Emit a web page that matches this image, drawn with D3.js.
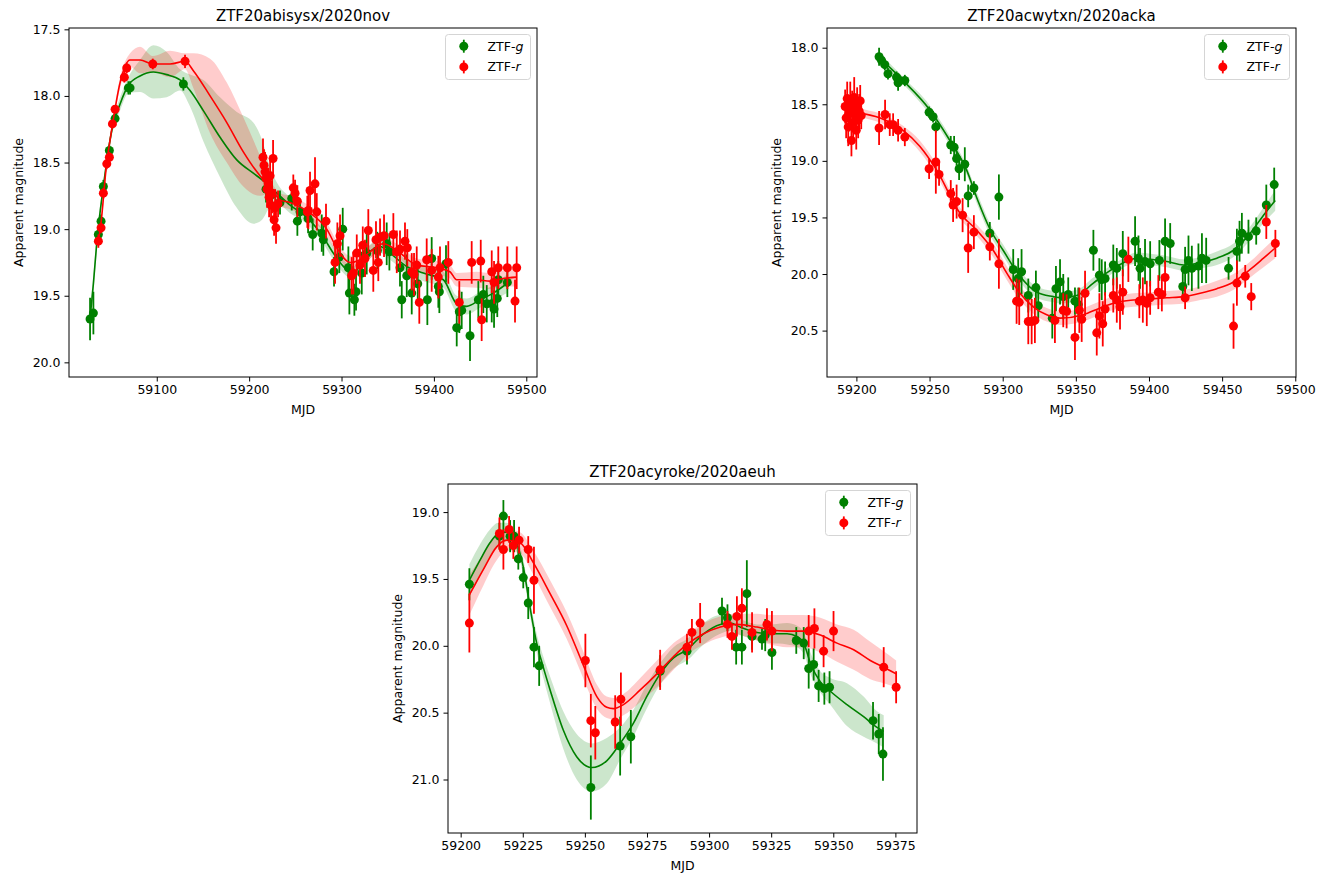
<!DOCTYPE html>
<html>
<head>
<meta charset="utf-8">
<script src="https://cdn.jsdelivr.net/npm/d3@7"></script>
<style>
  body { margin: 0; background: #fff; }
  svg { display: block; font-family: "DejaVu Sans", sans-serif; }
</style>
</head>
<body>
<div id="chart"></div>
<script>
// photometry rows: [MJD, magnitude, error]
const p1Green = [
  [59027.8,19.675,0.16],[59031.4,19.63,0.16],[59036.8,19.04,0.06],[59039.7,18.94,0.05],[59042.2,18.68,0.05],
  [59048.7,18.41,0.04],[59054.9,18.17,0.04],[59069.3,17.94,0.05],[59071.1,17.94,0.05],[59128.8,17.91,0.05],
  [59218.3,18.70,0.10],[59224.8,18.74,0.10],[59233.4,18.80,0.09],[59246.1,18.77,0.09],[59252.2,18.94,0.11],
  [59255.1,18.87,0.09],[59263.8,18.92,0.11],[59268.8,19.04,0.12],[59278.6,19.03,0.14],[59280.3,19.08,0.12],
  [59291.9,19.32,0.11],[59297.6,19.21,0.12],[59301.3,19.00,0.16],[59307.4,19.29,0.16],[59308.5,19.48,0.16],
  [59313.9,19.53,0.12],[59315.7,19.47,0.14],[59321.9,19.33,0.16],[59327.3,19.18,0.16],[59338.8,19.16,0.14],
  [59348.9,19.11,0.16],[59351.8,19.17,0.14],[59363.3,19.29,0.14],[59365.2,19.53,0.14],[59370.6,19.35,0.16],
  [59376.0,19.48,0.16],[59382.5,19.41,0.16],[59392.9,19.53,0.19],[59397.6,19.22,0.16],[59404.8,19.43,0.16],
  [59405.9,19.47,0.16],[59413.1,19.26,0.14],[59424.7,19.74,0.14],[59427.5,19.62,0.16],[59430.1,19.61,0.14],
  [59439.1,19.80,0.19],[59448.1,19.53,0.14],[59453.5,19.49,0.14],[59457.2,19.56,0.14],[59462.6,19.56,0.14],
  [59465.1,19.60,0.14],[59468.6,19.52,0.14],[59469.7,19.38,0.14],[59479.5,19.40,0.11]
];
const p1Red = [
  [59036.8,19.09,0.05],[59039.7,18.99,0.04],[59042.2,18.73,0.04],[59045.9,18.51,0.04],[59048.7,18.46,0.04],
  [59052.0,18.21,0.03],[59054.9,18.10,0.03],[59064.9,17.86,0.04],[59067.5,17.79,0.04],[59095.7,17.76,0.04],
  [59130.6,17.74,0.05],
  [59215.0,18.46,0.14],[59216.1,18.52,0.12],[59217.2,18.57,0.15],[59218.3,18.62,0.12],[59219.4,18.70,0.14],
  [59220.5,18.66,0.12],[59221.6,18.76,0.15],[59222.7,18.60,0.13],[59223.7,18.82,0.12],[59224.8,18.73,0.15],
  [59225.9,18.47,0.14],[59227.0,18.93,0.12],[59228.1,18.84,0.14],[59229.1,18.99,0.12],[59231.3,18.81,0.10],
  [59247.8,18.69,0.10],[59249.7,18.73,0.10],[59252.2,18.79,0.12],[59263.0,18.87,0.12],[59264.1,18.86,0.14],
  [59265.9,18.71,0.14],[59271.3,18.66,0.20],[59273.2,18.87,0.14],[59283.2,18.94,0.13],
  [59293.0,19.25,0.16],[59295.5,19.11,0.16],[59298.4,19.05,0.16],[59311.0,19.35,0.14],[59312.8,19.33,0.16],
  [59316.5,19.18,0.14],[59320.0,19.27,0.14],[59323.0,19.12,0.14],[59325.4,19.22,0.14],[59329.0,19.01,0.16],
  [59334.4,19.31,0.16],[59337.3,19.08,0.14],[59339.8,19.25,0.14],[59341.7,19.06,0.14],[59346.0,19.05,0.16],
  [59356.1,19.04,0.16],[59359.8,19.17,0.16],[59363.3,19.15,0.14],[59368.7,19.09,0.14],[59371.2,19.14,0.14],
  [59376.0,19.32,0.14],[59378.5,19.34,0.16],[59381.4,19.27,0.14],[59384.2,19.55,0.16],[59392.2,19.23,0.16],
  [59397.6,19.31,0.16],[59404.8,19.36,0.16],[59406.6,19.29,0.16],[59415.6,19.25,0.16],[59427.5,19.55,0.16],
  [59440.9,19.25,0.16],[59450.7,19.24,0.16],[59451.7,19.68,0.16],[59462.6,19.32,0.16],[59465.1,19.40,0.16],
  [59469.7,19.29,0.16],[59479.5,19.29,0.16],[59487.8,19.54,0.16],[59489.6,19.29,0.16]
];

const p2Green = [
  [59215.5,18.08,0.08],[59217.1,18.11,0.05],[59219.4,18.15,0.05],[59221.6,18.23,0.05],[59227.4,18.26,0.05],
  [59228.5,18.31,0.07],[59229.6,18.29,0.05],[59233.1,18.29,0.05],[59249.7,18.57,0.05],[59252.4,18.61,0.05],
  [59254.3,18.70,0.05],[59264.5,18.86,0.08],[59266.8,18.88,0.10],[59268.5,18.98,0.06],[59270.2,19.07,0.10],
  [59274.1,19.03,0.15],[59276.4,19.31,0.10],[59280.3,19.24,0.06],[59291.2,19.64,0.10],[59297.4,19.32,0.20],
  [59307.2,19.96,0.18],[59310.6,20.04,0.18],[59312.9,19.98,0.20],[59317.5,20.19,0.15],[59322.7,20.12,0.15],
  [59324.3,20.28,0.14],[59333.9,20.39,0.18],[59336.4,20.13,0.20],[59339.2,20.07,0.20],[59341.4,20.20,0.20],
  [59344.8,20.18,0.15],[59349.4,20.24,0.12],[59351.7,20.27,0.15],[59362.0,19.79,0.18],[59366.1,20.01,0.15],
  [59367.7,20.05,0.18],[59370.0,20.04,0.15],[59375.6,19.92,0.18],[59378.0,19.95,0.18],[59382.1,19.82,0.20],
  [59390.5,19.71,0.22],[59392.8,19.86,0.20],[59393.9,19.95,0.18],[59397.3,19.89,0.20],[59400.8,19.91,0.20],
  [59407.1,19.88,0.18],[59411.0,19.71,0.20],[59414.5,19.73,0.18],[59423.1,20.11,0.12],[59424.7,19.96,0.20],
  [59427.0,19.88,0.22],[59429.3,19.95,0.20],[59433.8,19.93,0.20],[59436.2,19.86,0.22],[59439.1,19.88,0.20],
  [59454.4,19.95,0.10],[59460.1,19.80,0.20],[59461.9,19.71,0.18],[59463.5,19.64,0.18],[59468.0,19.67,0.15],
  [59473.3,19.62,0.12],[59480.2,19.39,0.18],[59485.6,19.21,0.15]
];
const p2Red = [
  [59192.3,18.52,0.15],[59193.0,18.62,0.18],[59193.7,18.45,0.15],[59194.4,18.70,0.17],[59195.1,18.58,0.16],
  [59195.8,18.48,0.18],[59196.6,18.82,0.14],[59197.1,18.55,0.17],[59197.8,18.66,0.15],[59198.5,18.44,0.18],
  [59199.2,18.60,0.16],[59199.9,18.73,0.17],[59200.5,18.50,0.15],[59201.2,18.64,0.16],[59201.9,18.56,0.15],
  [59202.6,18.47,0.14],[59203.3,18.60,0.12],
  [59215.5,18.71,0.15],[59219.6,18.59,0.13],[59222.8,18.68,0.10],[59225.1,18.68,0.10],[59228.5,18.73,0.10],
  [59233.1,18.79,0.08],[59249.7,19.07,0.09],[59254.3,19.01,0.28],[59256.5,19.12,0.10],[59264.5,19.29,0.12],
  [59266.1,19.39,0.15],[59268.5,19.36,0.15],[59272.6,19.48,0.15],[59276.4,19.77,0.22],[59280.3,19.63,0.15],
  [59291.2,19.76,0.12],[59297.4,19.91,0.22],[59309.5,20.24,0.20],[59311.3,20.25,0.20],[59317.5,20.42,0.20],
  [59319.8,20.42,0.20],[59322.0,20.41,0.20],[59335.7,20.41,0.20],[59341.4,20.32,0.15],[59343.7,20.33,0.15],
  [59349.4,20.56,0.20],[59352.4,20.32,0.20],[59354.0,20.40,0.20],[59356.3,20.17,0.20],[59364.3,20.52,0.20],
  [59366.1,20.37,0.20],[59368.4,20.44,0.20],[59370.0,20.31,0.15],[59375.6,20.19,0.15],[59378.0,20.23,0.20],
  [59380.2,20.29,0.20],[59382.1,20.16,0.20],[59385.9,19.87,0.20],[59393.4,20.24,0.15],[59395.8,20.23,0.20],
  [59398.5,20.26,0.20],[59400.8,20.21,0.15],[59406.4,20.16,0.15],[59408.8,20.18,0.15],[59411.0,20.03,0.15],
  [59424.7,20.21,0.10],[59457.8,20.46,0.20],[59460.1,20.08,0.20],[59465.8,20.02,0.10],[59469.9,20.20,0.12],
  [59480.2,19.54,0.15],[59486.4,19.73,0.12]
];

const p3Green = [
  [59203.5,19.54,0.12],[59215.6,19.18,0.10],[59217.2,19.03,0.12],[59219.9,19.18,0.12],[59221.5,19.18,0.12],
  [59223.2,19.35,0.08],[59225.2,19.49,0.08],[59227.2,19.68,0.12],[59229.5,20.01,0.15],[59231.6,20.15,0.15],
  [59252.4,21.06,0.24],[59264.2,20.75,0.22],[59268.5,20.68,0.20],[59280.3,20.19,0.12],[59291.1,20.04,0.10],
  [59305.2,19.74,0.10],[59307.4,19.79,0.10],[59310.9,20.01,0.13],[59313.2,20.01,0.13],[59315.2,19.61,0.25],
  [59317.3,19.93,0.10],[59321.3,19.95,0.08],[59322.6,19.92,0.12],[59325.3,20.05,0.13],[59335.1,19.96,0.10],
  [59338.1,19.98,0.12],[59340.1,20.17,0.15],[59342.1,20.14,0.12],[59344.1,20.30,0.12],[59346.4,20.32,0.12],
  [59348.5,20.31,0.12],[59366.0,20.56,0.14],[59368.3,20.66,0.15],[59370.0,20.81,0.20]
];
const p3Red = [
  [59203.5,19.83,0.22],[59215.6,19.16,0.12],[59217.2,19.28,0.15],[59219.5,19.13,0.10],[59221.2,19.25,0.10],
  [59223.5,19.21,0.10],[59227.2,19.28,0.10],[59229.5,19.51,0.25],[59250.2,20.11,0.20],[59252.4,20.56,0.20],
  [59254.2,20.65,0.20],[59262.2,20.57,0.20],[59264.5,20.40,0.20],[59280.3,20.18,0.15],[59291.1,20.01,0.10],
  [59293.1,19.90,0.10],[59296.4,19.83,0.15],[59307.4,19.84,0.10],[59309.2,19.93,0.10],[59311.2,19.78,0.15],
  [59313.2,19.72,0.15],[59317.3,19.90,0.15],[59323.3,19.84,0.12],[59325.3,19.89,0.15],[59340.1,19.89,0.12],
  [59342.4,19.87,0.15],[59346.1,20.04,0.12],[59350.1,19.89,0.15],[59370.3,20.16,0.15],[59375.3,20.31,0.12]
];

// Gaussian-process fits: [MJD, mean magnitude, 1-sigma half width]
const p1GreenFit = [
  [59027.8,19.67,0.08],[59031.4,19.41,0.07],[59035.1,19.10,0.06],[59042.2,18.68,0.04],[59051.3,18.26,0.04],
  [59060.3,18.06,0.05],[59069.3,17.92,0.06],[59081.9,17.85,0.12],[59096.3,17.82,0.20],[59110.8,17.84,0.17],
  [59125.2,17.88,0.08],[59136.0,17.96,0.12],[59150.4,18.11,0.23],[59168.5,18.31,0.30],[59186.6,18.48,0.36],
  [59204.5,18.58,0.38],[59214.0,18.63,0.30],[59222.0,18.68,0.16],[59230.0,18.73,0.08],[59244.3,18.82,0.06],
  [59262.3,18.91,0.05],
  [59280.3,19.06,0.05],[59291.1,19.18,0.05],[59302.0,19.28,0.05],[59312.8,19.33,0.05],[59327.3,19.19,0.05],
  [59341.7,19.13,0.05],[59352.5,19.18,0.05],[59370.6,19.28,0.05],[59388.5,19.33,0.06],[59410.2,19.38,0.06],
  [59424.7,19.56,0.06],[59435.5,19.58,0.06],[59449.9,19.53,0.06],[59464.3,19.48,0.06],[59478.8,19.41,0.07]
];
const p1RedFit = [
  [59036.8,19.09,0.04],[59039.7,18.95,0.04],[59045.1,18.55,0.04],[59052.0,18.22,0.03],[59060.3,17.90,0.04],
  [59071.1,17.73,0.05],[59081.9,17.73,0.10],[59095.7,17.76,0.06],[59114.4,17.76,0.10],[59130.6,17.74,0.06],
  [59139.6,17.81,0.13],[59157.7,18.00,0.28],[59175.8,18.20,0.30],[59193.7,18.42,0.26],[59211.8,18.60,0.15],
  [59222.7,18.68,0.05],[59233.4,18.78,0.05],[59244.3,18.80,0.05],[59265.9,18.88,0.05],[59284.0,19.00,0.05],
  [59294.8,19.14,0.05],[59309.2,19.25,0.05],[59320.0,19.23,0.05],[59330.9,19.17,0.05],[59345.3,19.11,0.05],
  [59359.8,19.16,0.05],[59381.4,19.27,0.05],[59403.0,19.29,0.05],[59417.4,19.32,0.05],[59424.7,19.38,0.05],
  [59446.3,19.38,0.06],[59460.7,19.39,0.06],[59475.1,19.37,0.06],[59489.6,19.36,0.07]
];
const p2GreenFit = [
  [59215.9,18.09,0.04],[59231.9,18.29,0.03],[59250.2,18.55,0.04],[59263.9,18.82,0.04],[59275.3,19.08,0.04],
  [59283.0,19.35,0.05],[59291.2,19.60,0.05],[59300.3,19.79,0.05],[59311.8,20.02,0.05],[59323.2,20.16,0.05],
  [59334.6,20.20,0.05],[59339.2,20.21,0.05],[59350.6,20.19,0.05],[59362.0,20.08,0.05],[59371.1,19.99,0.04],
  [59382.5,19.90,0.04],[59391.7,19.86,0.05],[59400.8,19.87,0.05],[59412.2,19.89,0.05],[59423.6,19.92,0.05],
  [59435.0,19.90,0.05],[59446.4,19.86,0.06],[59457.8,19.79,0.06],[59469.2,19.64,0.06],[59478.3,19.48,0.07],
  [59486.3,19.35,0.09]
];
const p2RedFit = [
  [59192.0,18.50,0.05],[59202.3,18.57,0.04],[59215.9,18.62,0.04],[59231.9,18.73,0.04],[59243.3,18.87,0.05],
  [59254.8,19.08,0.05],[59270.7,19.46,0.05],[59282.1,19.61,0.05],[59293.5,19.79,0.06],[59302.7,19.99,0.06],
  [59311.8,20.17,0.06],[59320.9,20.29,0.06],[59330.1,20.36,0.06],[59339.2,20.39,0.06],[59355.1,20.36,0.06],
  [59366.6,20.30,0.06],[59378.0,20.25,0.06],[59389.3,20.23,0.06],[59400.8,20.22,0.06],[59412.2,20.21,0.06],
  [59423.6,20.20,0.06],[59435.0,20.17,0.06],[59446.4,20.13,0.07],[59457.8,20.07,0.07],[59469.2,19.96,0.07],
  [59478.3,19.86,0.08],[59486.3,19.77,0.09]
];
const p3GreenFit = [
  [59203.5,19.51,0.12],[59207.8,19.36,0.12],[59211.8,19.23,0.10],[59215.2,19.16,0.08],[59218.5,19.15,0.07],
  [59221.9,19.21,0.06],[59225.2,19.41,0.06],[59227.9,19.71,0.06],[59230.6,19.98,0.07],[59233.1,20.15,0.08],
  [59236.0,20.33,0.10],[59241.3,20.63,0.14],[59246.7,20.83,0.17],[59252.8,20.91,0.18],[59258.8,20.86,0.17],
  [59264.2,20.73,0.12],[59269.5,20.58,0.10],[59274.9,20.38,0.09],[59280.3,20.21,0.08],[59285.7,20.09,0.08],
  [59291.1,20.03,0.08],[59297.8,19.91,0.08],[59304.5,19.84,0.07],[59308.5,19.83,0.06],[59312.5,19.86,0.06],
  [59319.3,19.90,0.06],[59324.6,19.91,0.07],[59331.4,19.91,0.08],[59335.4,19.93,0.08],[59338.1,19.98,0.08],
  [59340.8,20.13,0.08],[59344.8,20.27,0.08],[59348.8,20.34,0.10],[59355.5,20.44,0.16],[59362.2,20.53,0.15],
  [59367.6,20.61,0.12],[59370.3,20.64,0.12]
];
const p3RedFit = [
  [59203.5,19.62,0.15],[59209.1,19.43,0.12],[59214.5,19.26,0.10],[59218.5,19.21,0.08],[59223.9,19.23,0.08],
  [59229.3,19.38,0.09],[59236.0,19.61,0.10],[59242.7,19.85,0.10],[59249.5,20.15,0.10],[59254.8,20.38,0.09],
  [59258.8,20.46,0.08],[59261.5,20.47,0.08],[59265.5,20.44,0.08],[59272.3,20.33,0.09],[59279.0,20.21,0.10],
  [59285.7,20.08,0.10],[59291.1,19.99,0.08],[59297.8,19.91,0.08],[59304.5,19.86,0.08],[59311.2,19.84,0.08],
  [59319.3,19.86,0.10],[59324.6,19.88,0.11],[59331.4,19.89,0.12],[59338.1,19.89,0.12],[59344.8,19.92,0.13],
  [59351.5,19.98,0.14],[59358.2,20.03,0.15],[59364.9,20.11,0.14],[59370.3,20.16,0.12],[59375.3,20.21,0.10]
];

// axis ticks
const p1XTicks = [59100, 59200, 59300, 59400, 59500];
const p1YTicks = [17.5, 18.0, 18.5, 19.0, 19.5, 20.0];
const p2XTicks = [59200, 59250, 59300, 59350, 59400, 59450, 59500];
const p2YTicks = [18.0, 18.5, 19.0, 19.5, 20.0, 20.5];
const p3XTicks = [59200, 59225, 59250, 59275, 59300, 59325, 59350, 59375];
const p3YTicks = [19.0, 19.5, 20.0, 20.5, 21.0];

const bandNames = ["g", "r"];
const bandColors = { g: "green", r: "red" };

const width = 1330, height = 879;
const fontSize = "12.5px";
const markerR = 4.5;

const svg = d3.select("#chart")
  .append("svg")
  .attr("width", width)
  .attr("height", height);

let clipCount = 0;

const drawPanel = (cfg) => {
  const { box, xDomain, yDomain, xTicks, yTicks, title, data, fits } = cfg;

  const xScale = d3.scaleLinear().domain(xDomain).range([box.left, box.right]);
  // magnitudes: brighter at the top
  const yScale = d3.scaleLinear().domain(yDomain).range([box.top, box.bottom]);

  const clipId = `clip${clipCount++}`;
  svg.append("clipPath").attr("id", clipId)
    .append("rect")
    .attr("x", box.left).attr("y", box.top)
    .attr("width", box.right - box.left).attr("height", box.bottom - box.top);

  const plot = svg.append("g").attr("clip-path", `url(#${clipId})`);

  // uncertainty bands sit under everything else
  const area = d3.area()
    .x(d => xScale(d[0]))
    .y0(d => yScale(d[1] - d[2]))
    .y1(d => yScale(d[1] + d[2]))
    .curve(d3.curveMonotoneX);

  bandNames.forEach(b => {
    plot.append("path")
      .datum(fits[b])
      .attr("d", area)
      .attr("fill", bandColors[b])
      .attr("fill-opacity", 0.2)
      .attr("stroke", "none");
  });

  const line = d3.line()
    .x(d => xScale(d[0]))
    .y(d => yScale(d[1]))
    .curve(d3.curveMonotoneX);

  bandNames.forEach(b => {
    const col = bandColors[b];
    const pts = plot.append("g");

    pts.selectAll("line")
      .data(data[b])
      .join("line")
      .attr("x1", d => xScale(d[0]))
      .attr("x2", d => xScale(d[0]))
      .attr("y1", d => yScale(d[1] - d[2]))
      .attr("y2", d => yScale(d[1] + d[2]))
      .attr("stroke", col)
      .attr("stroke-width", 1.8);

    pts.selectAll("circle")
      .data(data[b])
      .join("circle")
      .attr("cx", d => xScale(d[0]))
      .attr("cy", d => yScale(d[1]))
      .attr("r", markerR)
      .attr("fill", col);

    plot.append("path")
      .datum(fits[b])
      .attr("d", line)
      .attr("fill", "none")
      .attr("stroke", col)
      .attr("stroke-width", 1.6);
  });

  // axes
  const xAxis = svg.append("g")
    .attr("transform", `translate(0, ${box.bottom})`)
    .call(d3.axisBottom(xScale).tickValues(xTicks).tickFormat(d3.format("d")).tickSize(4.5).tickPadding(4));
  const yAxis = svg.append("g")
    .attr("transform", `translate(${box.left}, 0)`)
    .call(d3.axisLeft(yScale).tickValues(yTicks).tickFormat(d3.format(".1f")).tickSize(4.5).tickPadding(4));

  [xAxis, yAxis].forEach(ax => {
    ax.select(".domain").remove();
    ax.selectAll("line").attr("stroke", "#000").attr("stroke-width", 1);
    ax.selectAll("text")
      .attr("fill", "#000")
      .style("font-size", fontSize)
      .style("font-family", "DejaVu Sans, sans-serif");
  });

  svg.append("rect")
    .attr("x", box.left).attr("y", box.top)
    .attr("width", box.right - box.left).attr("height", box.bottom - box.top)
    .attr("fill", "none")
    .attr("stroke", "#000")
    .attr("stroke-width", 1);

  const cx = (box.left + box.right) / 2;

  svg.append("text")
    .text(title)
    .attr("x", cx)
    .attr("y", box.top - 7)
    .attr("text-anchor", "middle")
    .style("font-size", "15px")
    .attr("fill", "#000");

  svg.append("text")
    .text("MJD")
    .attr("x", cx)
    .attr("y", box.bottom + 37)
    .attr("text-anchor", "middle")
    .style("font-size", fontSize)
    .attr("fill", "#000");

  svg.append("text")
    .text("Apparent magnitude")
    .attr("transform", `translate(${box.left - 50}, ${(box.top + box.bottom) / 2}) rotate(-90)`)
    .attr("text-anchor", "middle")
    .attr("dy", "0.35em")
    .style("font-size", fontSize)
    .attr("fill", "#000");

  // legend, upper right
  const legW = 85, legH = 45;
  const legend = svg.append("g")
    .attr("transform", `translate(${box.right - 6.5 - legW}, ${box.top + 6.5})`);

  legend.append("rect")
    .attr("width", legW).attr("height", legH)
    .attr("rx", 3)
    .attr("fill", "#fff").attr("fill-opacity", 0.8)
    .attr("stroke", "#d5d5d5");

  bandNames.forEach((b, i) => {
    const ly = 11.7 + i * 20.7;
    const col = bandColors[b];
    legend.append("line")
      .attr("x1", 18.3).attr("x2", 18.3)
      .attr("y1", ly - 6.5).attr("y2", ly + 6.5)
      .attr("stroke", col).attr("stroke-width", 1.8);
    legend.append("circle")
      .attr("cx", 18.3).attr("cy", ly).attr("r", markerR)
      .attr("fill", col);
    const t = legend.append("text")
      .attr("x", 42).attr("y", ly)
      .attr("dy", "0.35em")
      .style("font-size", fontSize)
      .attr("fill", "#000");
    t.append("tspan").text("ZTF-");
    t.append("tspan").text(b).style("font-style", "italic");
  });
};

drawPanel({
  box: { left: 69, right: 537, top: 28, bottom: 377 },
  xDomain: [59005, 59511.6],
  yDomain: [17.49, 20.11],
  xTicks: p1XTicks, yTicks: p1YTicks,
  title: "ZTF20abisysx/2020nov",
  data: { g: p1Green, r: p1Red },
  fits: { g: p1GreenFit, r: p1RedFit }
});

drawPanel({
  box: { left: 827, right: 1296, top: 28, bottom: 377 },
  xDomain: [59179.9, 59500.5],
  yDomain: [17.826, 20.91],
  xTicks: p2XTicks, yTicks: p2YTicks,
  title: "ZTF20acwytxn/2020acka",
  data: { g: p2Green, r: p2Red },
  fits: { g: p2GreenFit, r: p2RedFit }
});

drawPanel({
  box: { left: 448, right: 917, top: 484, bottom: 833 },
  xDomain: [59194.9, 59383.7],
  yDomain: [18.79, 21.40],
  xTicks: p3XTicks, yTicks: p3YTicks,
  title: "ZTF20acyroke/2020aeuh",
  data: { g: p3Green, r: p3Red },
  fits: { g: p3GreenFit, r: p3RedFit }
});
</script>
</body>
</html>
